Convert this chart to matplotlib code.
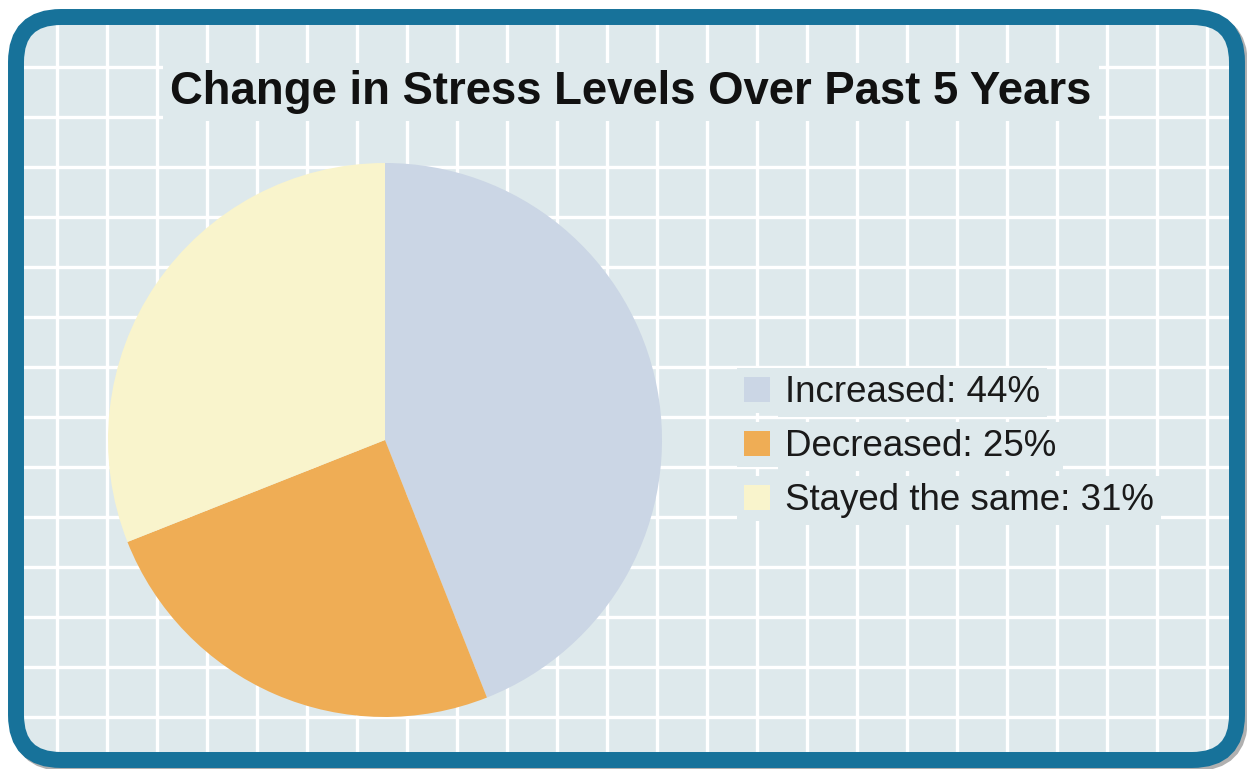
import numpy as np
import matplotlib
matplotlib.use("Agg")
import matplotlib.pyplot as plt
from matplotlib.patches import FancyBboxPatch, Rectangle

plt.rcParams['font.family'] = ['Liberation Sans', 'DejaVu Sans']

# data
labels = ['Increased', 'Decreased', 'Stayed the same']
values = [44, 25, 31]
colors = ['#cbd6e5', '#efad55', '#f9f4cc']
title = 'Change in Stress Levels Over Past 5 Years'

bg = '#dee9ec'
border = '#17729a'

W, H = 1247, 769
fig = plt.figure(figsize=(W / 100, H / 100), dpi=100)
fig.patch.set_facecolor('white')

# background axes in pixel coordinates (y down)
ax_bg = fig.add_axes([0, 0, 1, 1])
ax_bg.set_xlim(0, W)
ax_bg.set_ylim(H, 0)
ax_bg.axis('off')

shadow = FancyBboxPatch((19, 20), 1221, 743, boxstyle='round,pad=0,rounding_size=45',
                        facecolor='#b0b0b0', edgecolor='#b0b0b0', linewidth=11.5, zorder=0)
ax_bg.add_patch(shadow)
box = FancyBboxPatch((16, 17), 1221, 743, boxstyle='round,pad=0,rounding_size=45',
                     facecolor=bg, edgecolor='none', zorder=1)
ax_bg.add_patch(box)

# white grid, clipped to the rounded box
xs = np.arange(57, 1230, 50)
ys = np.arange(67, 752, 50)
vl = ax_bg.vlines(xs, 0, H, colors='white', linewidth=2.4, zorder=2)
hl = ax_bg.hlines(ys, 0, W, colors='white', linewidth=2.4, zorder=2)
vl.set_clip_path(box)
hl.set_clip_path(box)

frame = FancyBboxPatch((16, 17), 1221, 743, boxstyle='round,pad=0,rounding_size=45',
                       facecolor='none', edgecolor=border, linewidth=11.5, zorder=10)
ax_bg.add_patch(frame)

# title
ax_bg.text(631, 104, title, ha='center', va='baseline', fontsize=32.8, fontweight='bold',
           color='#111111', zorder=5,
           bbox=dict(facecolor=bg, edgecolor='none', pad=5))

# legend rows
for i, (lab, val, col) in enumerate(zip(labels, values, colors)):
    base = 402 + 54 * i
    ax_bg.add_patch(Rectangle((737, base - 34), 52, 45, facecolor=bg, edgecolor='none', zorder=4))
    ax_bg.add_patch(Rectangle((744, base - 25), 26, 25, facecolor=col, edgecolor='none', zorder=5))
    ax_bg.text(785, base, f'{lab}: {val}%', ha='left', va='baseline', fontsize=26.5,
               color='#1a1a1a', zorder=5,
               bbox=dict(facecolor=bg, edgecolor='none', pad=5))

# pie
cx, cy, r = 385, 440, 277
ax_pie = fig.add_axes([(cx - r) / W, (H - cy - r) / H, 2 * r / W, 2 * r / H])
ax_pie.pie(values, colors=colors, startangle=90, counterclock=False, radius=1,
           wedgeprops=dict(linewidth=0))
ax_pie.set_xlim(-1, 1)
ax_pie.set_ylim(-1, 1)
ax_pie.axis('off')

fig.savefig('out.png', dpi=100, facecolor=fig.get_facecolor())
